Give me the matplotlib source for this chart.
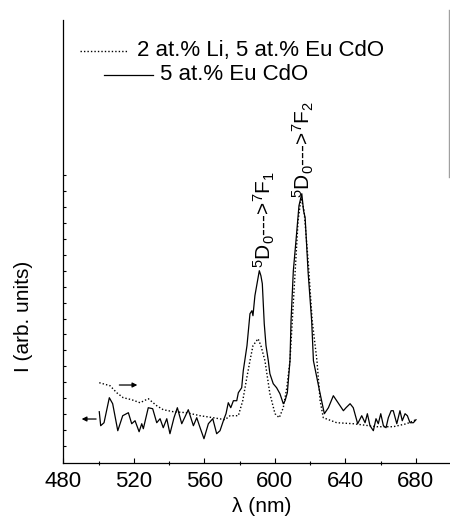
import matplotlib
matplotlib.use('Agg')
import matplotlib.pyplot as plt
from matplotlib.lines import Line2D
from matplotlib.ticker import MultipleLocator, FixedLocator, NullFormatter

plt.rcParams['font.family'] = ['Liberation Sans', 'DejaVu Sans']
plt.rcParams['mathtext.fontset'] = 'custom'
plt.rcParams['mathtext.rm'] = 'Liberation Sans'
plt.rcParams['mathtext.it'] = 'Liberation Sans'
plt.rcParams['mathtext.bf'] = 'Liberation Sans'

# Data (arbitrary intensity units)

eu_wl = [500.4, 501.2, 503.1, 506.1, 508.0, 510.9, 513.7, 516.9, 518.8, 520.7,
         523.0, 524.5, 525.4, 528.2, 530.7, 533.0, 534.9, 536.7, 538.7, 540.5,
         542.8, 544.7, 547.2, 550.9, 553.8, 555.7, 557.6, 559.8, 562.3, 564.8,
         567.0, 568.9, 571.2, 572.3, 573.6, 575.0, 576.5, 578.4, 579.3, 581.2,
         582.1, 584.2, 585.9, 587.0, 587.6, 588.7, 591.2, 592.1, 592.9, 594.0,
         595.0, 596.3, 597.2, 599.1, 601.0, 602.9, 604.8, 605.8, 607.1, 608.6,
         609.2, 610.5, 612.0, 613.7, 615.3, 616.3, 617.2, 618.9, 620.9, 621.9,
         625.7, 628.1, 630.4, 633.2, 635.1, 638.9, 640.4, 642.7, 644.5, 647.0,
         649.3, 651.2, 652.5, 654.0, 655.9, 657.4, 658.7, 660.1, 661.6, 663.1,
         664.4, 666.0, 667.2, 669.2, 671.0, 672.3, 673.9, 675.2, 676.7, 678.6,
         680.1]
eu_int = [51, 37, 40, 65, 59, 32, 47, 50, 39, 42,
          31, 39, 34, 55, 54, 40, 44, 35, 44, 29,
          45, 55, 39, 53, 37, 45, 35, 24, 39, 44,
          29, 32, 44, 49, 60, 55, 62, 62, 70, 75,
          92, 117, 149, 152, 147, 167, 192, 187, 179, 139,
          117, 102, 89, 79, 75, 69, 59, 62, 70, 102,
          142, 192, 222, 257, 269, 252, 245, 190, 142, 102,
          69, 49, 55, 67, 62, 52, 55, 59, 55, 39,
          47, 40, 49, 37, 32, 44, 39, 49, 37, 35,
          45, 52, 52, 39, 52, 42, 49, 47, 40, 40,
          43]

li_eu_wl = [500.4, 506.5, 510.3, 514.0, 518.8, 523.5, 528.2, 533.0, 536.7, 542.4,
            550.0, 557.6, 565.1, 571.7, 574.6, 579.3, 581.8, 584.1, 585.9, 587.6,
            590.5, 592.1, 594.4, 597.2, 600.1, 602.5, 604.8, 606.8, 608.6, 610.9,
            613.2, 614.9, 616.6, 618.9, 621.2, 623.9, 625.7, 627.5, 635.1, 644.5,
            657.8, 667.2, 674.8, 680.1]
li_eu_int = [80, 77, 70, 65, 63, 60, 64, 57, 53, 51,
             50, 47, 45, 43, 47, 47, 62, 85, 102, 117,
             124, 117, 102, 69, 49, 45, 55, 75, 102, 172,
             242, 265, 252, 202, 142, 102, 62, 45, 40, 39,
             36, 36, 39, 43]

xticks = [480, 520, 560, 600, 640, 680]

fig = plt.figure(figsize=(4.5, 5.29), dpi=100)
ax = fig.add_axes([0.1407, 0.1253, 0.8617, 0.8369])

ax.plot(li_eu_wl, li_eu_int, color='black', lw=1.0, linestyle=(0, (1, 1.5)))
ax.plot(eu_wl, eu_int, color='black', lw=0.9)

ax.set_xlim(480, 700)
ax.set_ylim(0, 442.7)

ax.spines['top'].set_visible(False)
ax.spines['right'].set_visible(False)
for s in ('left', 'bottom'):
    ax.spines[s].set_linewidth(0.9)

ax.set_xticks(xticks)
ax.xaxis.set_minor_locator(MultipleLocator(20))
ax.tick_params(axis='x', which='major', direction='in', length=3.5, width=0.8,
               labelsize=16, pad=6)
ax.tick_params(axis='x', which='minor', direction='inout', length=3, width=0.8)
ax.yaxis.set_major_locator(FixedLocator([17 + 15.9 * k for k in range(18)]))
ax.yaxis.set_major_formatter(NullFormatter())
ax.tick_params(axis='y', which='major', direction='in', length=2, width=0.8)

ax.set_xlabel('λ (nm)', fontsize=15)
ax.xaxis.set_label_coords(0.5125, -0.078)
ax.set_ylabel('I (arb. units)', fontsize=15)
ax.yaxis.set_label_coords(-0.078, 0.331)

# legend drawn by hand (entries are offset like in the original)
ax.add_line(Line2D([0.0443, 0.1634], [0.9307, 0.9307], transform=ax.transAxes,
                   color='black', lw=1.0, linestyle=(0, (1, 1.5))))
ax.text(0.1893, 0.9307, '2 at.% Li, 5 at.% Eu CdO', transform=ax.transAxes,
        fontsize=16, va='center', ha='left')
ax.add_line(Line2D([0.1057, 0.2322], [0.876, 0.876], transform=ax.transAxes,
                   color='black', lw=0.9))
ax.text(0.2494, 0.876, '5 at.% Eu CdO', transform=ax.transAxes,
        fontsize=16, va='center', ha='left')

# transition labels
ax.text(594.0, 194.7, r'$^5$D$_0$--->$^7$F$_1$', rotation=90,
        rotation_mode='anchor', ha='left', va='center', fontsize=15)
ax.text(616.2, 264.7, r'$^5$D$_0$--->$^7$F$_2$', rotation=90,
        rotation_mode='anchor', ha='left', va='center', fontsize=15)

# axis arrows
arrow = dict(arrowstyle='-|>', lw=0.9, color='black', mutation_scale=7,
             shrinkA=0, shrinkB=0)
ax.annotate('', xy=(490.4, 43.7), xytext=(498.6, 43.7), arrowprops=arrow)
ax.annotate('', xy=(522.0, 77.7), xytext=(511.8, 77.7), arrowprops=arrow)

# thin grey edge at the right border
fig.add_artist(Line2D([449.3 / 450, 449.3 / 450], [1 - 10 / 529, 1 - 177 / 529],
                      transform=fig.transFigure, color='#a0a0a0', lw=1.0))

plt.savefig('out.png', dpi=100)
